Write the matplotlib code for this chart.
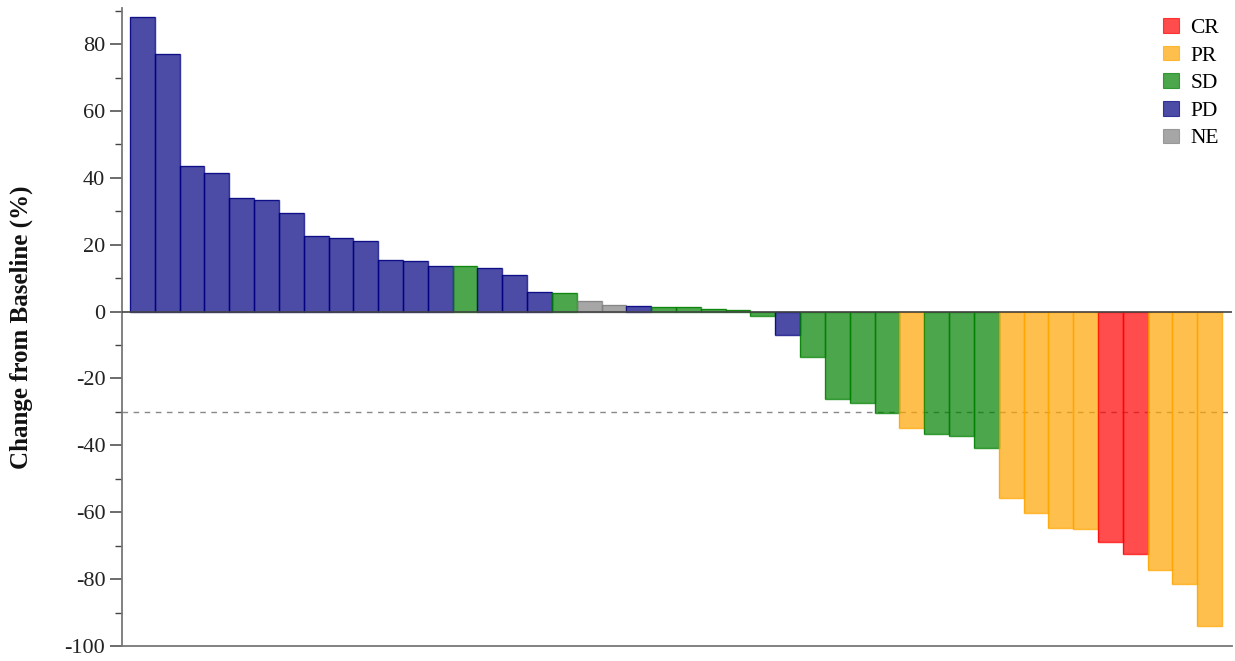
import matplotlib
matplotlib.use("Agg")
import matplotlib.pyplot as plt
from matplotlib.patches import Patch
from matplotlib.ticker import MultipleLocator

# Best percentage change from baseline per patient, sorted (waterfall)
changes = [88, 77, 43.5, 41.5, 34, 33.5, 29.5, 22.5, 22, 21, 15.5, 15, 13.5,
           13.5, 13, 11, 6, 5.5, 3.2, 2, 1.8, 1.5, 1.3, 0.8, 0.4, -1.2, -7,
           -13.7, -26.1, -27.3, -30.3, -34.9, -36.6, -37.2, -40.9, -55.6,
           -60.1, -64.6, -65.0, -68.9, -72.5, -77.2, -81.4, -94.0]
responses = ["PD"] * 13 + ["SD", "PD", "PD", "PD", "SD", "NE", "NE", "PD",
             "SD", "SD", "SD", "SD", "SD", "PD", "SD", "SD", "SD", "SD", "PR",
             "SD", "SD", "SD", "PR", "PR", "PR", "PR", "CR", "CR", "PR", "PR", "PR"]
categories = ["CR", "PR", "SD", "PD", "NE"]

base_colors = {"CR": "#FF0000", "PR": "#FFA500", "SD": "#008000",
               "PD": "#000080", "NE": "#808080"}
fill_alpha = 0.7

plt.rcParams["font.family"] = ["Liberation Serif", "DejaVu Serif"]
plt.rcParams["axes.unicode_minus"] = False

W, H = 1235, 661
fig = plt.figure(figsize=(W / 100, H / 100), dpi=100)
ax = fig.add_axes([122 / W, 15 / H, 1110 / W, 638 / H])

x = list(range(len(changes)))
for xi, val, resp in zip(x, changes, responses):
    c = base_colors[resp]
    ax.bar(xi, val, width=1.0, color=c, alpha=fill_alpha, edgecolor="none", zorder=2)
    ax.bar(xi, val, width=1.0, facecolor="none", edgecolor=c, linewidth=1.0,
           alpha=0.8, zorder=3)

ax.axhline(0, color="#444444", linewidth=1.2, zorder=4)
ax.axhline(-30, color="#888888", linewidth=1.0, linestyle=(0, (4, 4)), zorder=1)

ax.set_xlim(-0.82, 43.9)
ax.set_ylim(-100, 90.8)
ax.yaxis.set_major_locator(MultipleLocator(20))
ax.yaxis.set_minor_locator(MultipleLocator(10))
ax.set_yticks(range(-100, 81, 20))
ax.set_xticks([])

for side in ("top", "right"):
    ax.spines[side].set_visible(False)
for side in ("left", "bottom"):
    ax.spines[side].set_color("#777777")
    ax.spines[side].set_linewidth(1.3)

ax.tick_params(axis="y", which="major", direction="out", length=9, width=1.1,
               color="#444444", labelsize=16, labelcolor="#222222", pad=3)
ax.tick_params(axis="y", which="minor", direction="out", length=5, width=1.0,
               color="#444444")

ax.set_ylabel("Change from Baseline (%)", fontsize=18, fontweight="bold",
              labelpad=23, color="#111111")

handles = [Patch(facecolor=base_colors[c], alpha=fill_alpha,
                 edgecolor=base_colors[c], linewidth=0.8)
           for c in categories]
leg = ax.legend(handles, categories, loc="upper right", frameon=False,
                fontsize=15.5, handlelength=0.75, handleheight=0.67,
                handletextpad=0.5, labelspacing=0.36, borderpad=0,
                borderaxespad=0,
                bbox_to_anchor=(1219 / W, 1 - 18 / H),
                bbox_transform=fig.transFigure)

fig.savefig("out.png", dpi=100)
